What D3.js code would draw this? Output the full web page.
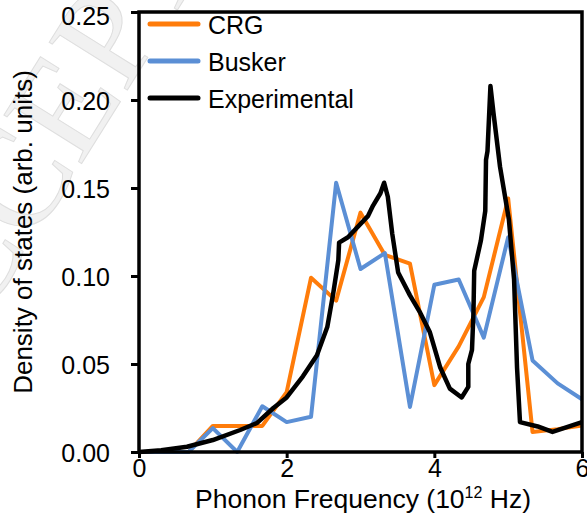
<!DOCTYPE html>
<html>
<head>
<meta charset="utf-8">
<script src="https://cdn.jsdelivr.net/npm/d3@7"></script>
<style>
  body { margin: 0; background: #fff; }
  svg { display: block; font-family: "Liberation Sans", Arial, sans-serif; }
</style>
</head>
<body>
<div id="chart"></div>
<script>
// series names, in legend order
const seriesNames = ["CRG", "Busker", "Experimental"];

// frequency (THz) and density of states
const crgX = [0, 0.33, 0.67, 1.0, 1.33, 1.67, 2.0, 2.33, 2.67, 3.0, 3.33, 3.67, 4.0, 4.33, 4.67, 5.0, 5.33, 5.67, 6.0];
const crgY = [0, 0, 0, 0.0148, 0.0148, 0.0148, 0.034, 0.099, 0.086, 0.136, 0.112, 0.107, 0.038, 0.060, 0.088, 0.144, 0.0114, 0.013, 0.015];

const buskerX = [0, 0.33, 0.67, 1.0, 1.33, 1.67, 2.0, 2.33, 2.67, 3.0, 3.33, 3.67, 4.0, 4.33, 4.67, 5.0, 5.33, 5.67, 6.0];
const buskerY = [0, 0, 0, 0.0136, 0, 0.026, 0.017, 0.020, 0.153, 0.104, 0.113, 0.0256, 0.095, 0.098, 0.065, 0.122, 0.052, 0.039, 0.030];

const expX = [0, 0.3, 0.65, 1.0, 1.37, 1.6, 1.82, 2.0, 2.22, 2.41, 2.55, 2.63, 2.70, 2.71, 2.83, 3.10, 3.17, 3.27, 3.32,
  3.37, 3.43, 3.51, 3.67, 3.81, 3.94, 4.08, 4.21, 4.37, 4.46, 4.46, 4.51, 4.53, 4.54, 4.63, 4.69, 4.70, 4.72, 4.76,
  4.80, 4.89, 5.01, 5.08, 5.12, 5.16, 5.40, 5.60, 6.0];
const expY = [0, 0.001, 0.003, 0.0068, 0.0125, 0.0165, 0.025, 0.031, 0.043, 0.055, 0.071, 0.090, 0.109, 0.119, 0.122, 0.134, 0.140, 0.147, 0.153,
  0.145, 0.124, 0.102, 0.089, 0.079, 0.068, 0.048, 0.036, 0.031, 0.037, 0.050, 0.058, 0.079, 0.103, 0.120, 0.137, 0.166, 0.171, 0.208,
  0.193, 0.162, 0.132, 0.098, 0.048, 0.017, 0.0145, 0.0114, 0.017];

const xTicks = [0, 2, 4, 6];
const yTicks = [0, 0.05, 0.10, 0.15, 0.20, 0.25];
const colors = ["#ff7c0a", "#5b8fd5", "#000000"];

const width = 587, height = 518;
const margin = {top: 12, right: 5, bottom: 66, left: 139};

const svg = d3.select("#chart").append("svg")
    .attr("width", width)
    .attr("height", height);

// faint watermark from the source page
svg.append("text")
    .attr("transform", "translate(-73,411) rotate(-58)")
    .attr("font-family", "'Liberation Serif', 'Times New Roman', serif")
    .attr("font-size", 140)
    .attr("fill", "#f1f1f1")
    .attr("stroke", "#dedede")
    .attr("stroke-width", 1)
    .text("ACCEPTED");

const x = d3.scaleLinear()
    .domain([0, 6])
    .range([margin.left, width - margin.right]);

const y = d3.scaleLinear()
    .domain([0, 0.25])
    .range([height - margin.bottom, margin.top]);

const series = [
    {name: seriesNames[0], pts: crgX.map((v, i) => [v, crgY[i]])},
    {name: seriesNames[1], pts: buskerX.map((v, i) => [v, buskerY[i]])},
    {name: seriesNames[2], pts: expX.map((v, i) => [v, expY[i]])}
];

const line = d3.line()
    .x(d => x(d[0]))
    .y(d => y(d[1]));

svg.selectAll("path.series")
    .data(series)
    .join("path")
    .attr("class", "series")
    .attr("d", d => line(d.pts))
    .attr("fill", "none")
    .attr("stroke", (d, i) => colors[i])
    .attr("stroke-width", (d, i) => i == 2 ? 4.5 : 4)
    .attr("stroke-linejoin", "round");

// axes
const yAxis = svg.append("g")
    .attr("transform", `translate(${margin.left},0)`)
    .call(d3.axisLeft(y).tickValues(yTicks).tickFormat(d3.format(".2f"))
        .tickSizeInner(8).tickSizeOuter(0).tickPadding(21));

const xAxis = svg.append("g")
    .attr("transform", `translate(0,${height - margin.bottom})`)
    .call(d3.axisBottom(x).tickValues(xTicks).tickFormat(d3.format("d"))
        .tickSizeInner(6).tickSizeOuter(0).tickPadding(1));

[xAxis, yAxis].forEach(g => {
    g.select(".domain").remove();
    g.selectAll("line").attr("stroke", "#000").attr("stroke-width", 3);
    g.selectAll("text")
        .attr("fill", "#000")
        .attr("font-size", 25)
        .attr("font-family", "'Liberation Sans', Arial, sans-serif");
});

// top label sits a little lower so it is not clipped
yAxis.selectAll(".tick text")
    .attr("dy", d => d == 0.25 ? "0.5em" : "0.36em");

// plot frame
svg.append("rect")
    .attr("x", x(0))
    .attr("y", y(0.25))
    .attr("width", x(6) - x(0))
    .attr("height", y(0) - y(0.25))
    .attr("fill", "none")
    .attr("stroke", "#000")
    .attr("stroke-width", 3.5);

// axis titles
const xTitle = svg.append("text")
    .attr("x", 363)
    .attr("y", 508)
    .attr("text-anchor", "middle")
    .attr("font-size", 26.5);
xTitle.append("tspan").text("Phonon Frequency (10");
xTitle.append("tspan").attr("dy", -10).attr("font-size", 16).text("12");
xTitle.append("tspan").attr("dy", 10).text(" Hz)");

svg.append("text")
    .attr("transform", "translate(32,232) rotate(-90)")
    .attr("text-anchor", "middle")
    .attr("font-size", 26)
    .text("Density of states (arb. units)");

// legend
const legend = svg.append("g")
    .selectAll("g")
    .data(series)
    .join("g")
    .attr("transform", (d, i) => `translate(150,${24 + i * 37})`);

legend.append("line")
    .attr("x1", 0).attr("x2", 48)
    .attr("stroke", (d, i) => colors[i])
    .attr("stroke-width", 5)
    .attr("stroke-linecap", "round");

legend.append("text")
    .attr("x", 58)
    .attr("y", 1)
    .attr("dy", "0.35em")
    .attr("font-size", 25)
    .text(d => d.name);
</script>
</body>
</html>
